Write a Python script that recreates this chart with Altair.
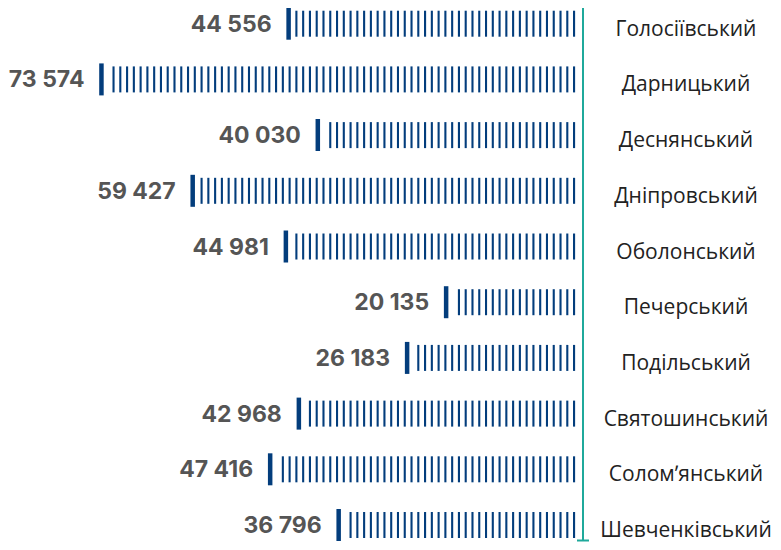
import altair as alt
import pandas as pd
import numpy as np

districts = ["Голосіївський", "Дарницький", "Деснянський", "Дніпровський", "Оболонський",
             "Печерський", "Подільський", "Святошинський", "Соломʼянський", "Шевченківський"]
values = [44556, 73574, 40030, 59427, 44981, 20135, 26183, 42968, 47416, 36796]

STEP = 1050      # spacing of the stripes, in data units
START = 300

df = pd.DataFrame({"district": districts, "value": values, "idx": list(range(len(districts)))})
df["label"] = [f"{v:,}".replace(",", " ") for v in values]

rows = []
for i, v in enumerate(values):
    for s in np.arange(START, v - 0.9 * STEP, STEP):
        rows.append({"idx": i, "s": float(s)})
stripes = pd.DataFrame(rows)

NAVY = "#033d7c"
TEAL = "#1fa99b"

xscale = alt.Scale(domain=[0, 80000], reverse=True)
x = alt.X("s:Q", scale=xscale, axis=None)
xv = alt.X("value:Q", scale=xscale, axis=None)
y = alt.Y("idx:Q", scale=alt.Scale(domain=[-0.282, 9.287], reverse=True, nice=False, zero=False), axis=None)

stripe_layer = alt.Chart(stripes).mark_tick(orient="vertical", size=26, thickness=2.1, color=NAVY, opacity=1).encode(x=x, y=y)

base = alt.Chart(df)
end_layer = base.mark_tick(orient="vertical", size=32, thickness=4.5, color=NAVY, opacity=1).encode(x=xv, y=y)
value_text = base.mark_text(align="right", baseline="alphabetic", dx=-17, dy=8, font="Inter",
                            fontSize=23, fontWeight=700, color="#555555").encode(x=xv, y=y, text="label:N")
name_text = base.mark_text(align="center", baseline="alphabetic", dy=12, font="Open Sans",
                           fontSize=21, fontWeight=400, color="#222222").encode(x=alt.value(626), y=y, text="district:N")

one = alt.Chart(pd.DataFrame({"a": [0]}))
axis_line = one.mark_rule(color=TEAL, strokeWidth=2).encode(x=alt.value(523), y=alt.value(0), y2=alt.value(533))
axis_cap = one.mark_rule(color=TEAL, strokeWidth=2).encode(x=alt.value(517), x2=alt.value(529), y=alt.value(532.5))

chart = alt.layer(stripe_layer, end_layer, value_text, name_text, axis_line, axis_cap).properties(
    width=516, height=533,
    autosize=alt.AutoSizeParams(type="none"),
    padding={"left": 52, "top": 0, "right": 197, "bottom": 1},
).configure_view(stroke=None)

chart.save("out.html", embed_options={"renderer": "svg", "actions": False})
